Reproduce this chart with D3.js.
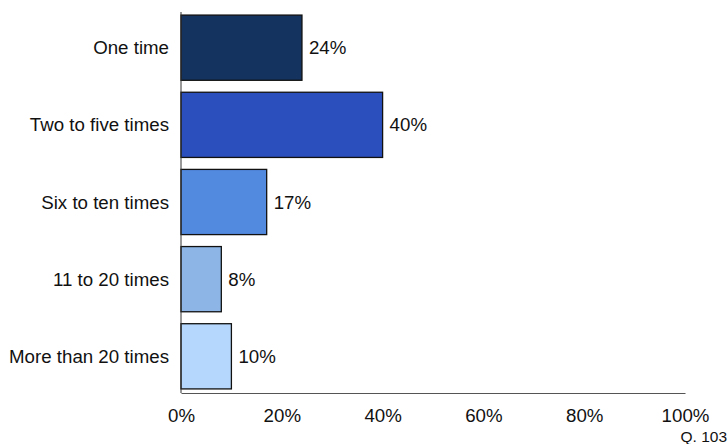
<!DOCTYPE html>
<html><head><meta charset="utf-8">
<script src="https://cdn.jsdelivr.net/npm/d3@7"></script>
<style>body{margin:0;background:#fff}svg{display:block;font-family:"Liberation Sans",Arial,sans-serif}</style>
</head><body><svg id="c" width="728" height="444"></svg>
<script>
const categories = ["One time","Two to five times","Six to ten times","11 to 20 times","More than 20 times"];
const values = [24,40,17,8,10];
const colors = ["#14335f","#2b50bd","#528ae0","#8db6e6","#b6d7fd"];
const tickValues = [0,20,40,60,80,100];

const svg = d3.select("#c");
const x = d3.scaleLinear().domain([0,100]).range([181,685]);
const y = d3.scaleBand().domain(categories).range([12,392]).paddingInner(0.155).paddingOuter(0.04);
const FS = 18.7;

svg.selectAll("rect.bar").data(values).join("rect")
  .attr("x", x(0)).attr("y", (d,i)=>y(categories[i]))
  .attr("width", d=>x(d)-x(0)).attr("height", y.bandwidth())
  .attr("fill",(d,i)=>colors[i]).attr("stroke","#111").attr("stroke-width",1.3);

svg.selectAll("text.val").data(values).join("text")
  .attr("x", d=>x(d)+7).attr("y",(d,i)=>y(categories[i])+y.bandwidth()/2)
  .attr("dy","0.35em").attr("font-size",FS).attr("fill","#111").text(d=>d+"%");

svg.selectAll("text.cat").data(categories).join("text")
  .attr("x",169).attr("y",d=>y(d)+y.bandwidth()/2).attr("dy","0.35em")
  .attr("text-anchor","end").attr("font-size",FS).attr("fill","#111").text(d=>d);

svg.append("line").attr("x1",x(0)).attr("x2",x(0)).attr("y1",12).attr("y2",393).attr("stroke","#333").attr("stroke-width",1);
const xa = svg.append("g").attr("transform","translate(0,393)")
  .call(d3.axisBottom(x).tickValues(tickValues).tickSize(0).tickPadding(16).tickFormat(d=>d+"%"));
xa.select(".domain").attr("stroke","#555").attr("stroke-width",1.2);
xa.selectAll("text").attr("font-size",FS).attr("fill","#111").attr("font-family","Liberation Sans, Arial, sans-serif");

svg.append("text").attr("x",727).attr("y",442).attr("text-anchor","end").attr("font-size",15.5).attr("fill","#111").text("Q. 103");
</script></body></html>
